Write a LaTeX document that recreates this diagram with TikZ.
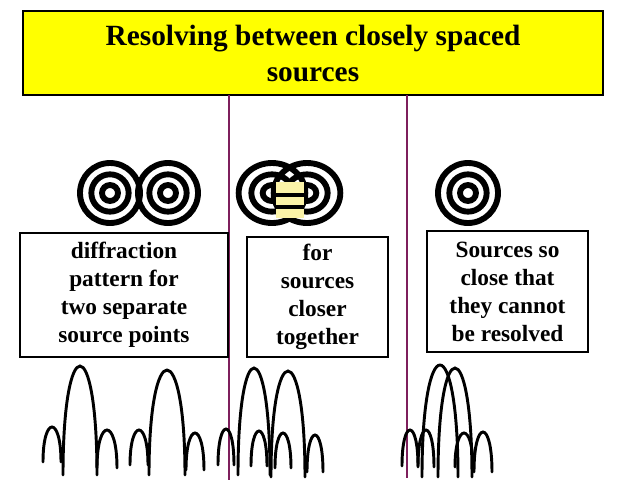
\documentclass[tikz,border=0pt]{standalone}
\usepackage{fontspec}
\setmainfont{Liberation Serif}
\definecolor{titleyellow}{HTML}{FFFF00}
\definecolor{paleyellow}{HTML}{FBF3A8}
\definecolor{divider}{HTML}{7E1F5C}
\tikzset{
  textbox/.style={draw, line width=1pt, fill=white, align=center, font=\bfseries\fontsize{17.5}{21}\selectfont},
  ring/.style={line width=4.4pt},
  peak/.style={line width=2.2pt, line cap=round},
}
\begin{document}
\begin{tikzpicture}[x=0.75pt,y=-0.75pt]
  \useasboundingbox (0,0) rectangle (640,480);
  \def\arch#1#2#3#4{% center, half width, peak, foot
    \pgfmathsetmacro\ctrl{(#3-0.25*#4)/0.75}
    \draw[peak] (#1-#2,#4) .. controls (#1-#2,\ctrl) and (#1+#2,\ctrl) .. (#1+#2,#4);
  }

  \node[draw, line width=1pt, fill=titleyellow, minimum width=435pt, minimum height=63pt,
        align=center, font=\bfseries\fontsize{22}{27}\selectfont] (title) at (313,53)
        {Resolving between closely spaced\\sources};

  \coordinate (d1top) at (229,95);
  \coordinate (d1bot) at (229,480);
  \coordinate (d2top) at (407,95);
  \coordinate (d2bot) at (407,478);
  \draw[divider, line width=1.5pt] (d1top) -- (d1bot);
  \draw[divider, line width=1.5pt] (d2top) -- (d2bot);

  % ring patterns
  \foreach \cx in {110,168,468} {
    \draw[ring] (\cx,193) circle (22.5pt);
    \draw[ring] (\cx,193) circle (14pt);
    \draw[ring] (\cx,193) circle (6pt);
  }
  \foreach \cx in {272,307} {
    \draw[ring] (\cx,193) ellipse (25pt and 22.5pt);
    \draw[ring] (\cx,193) ellipse (15.5pt and 14pt);
    \draw[ring] (\cx,193) ellipse (7pt and 6pt);
  }
  \fill[paleyellow] (276,182) rectangle (304,218);
  \draw[line width=3pt] (276,195) -- (304,195);
  \draw[line width=3pt] (276,207) -- (304,207);

  \node[textbox, minimum width=156pt, minimum height=93pt] (sep) at (124,295)
    {diffraction\\pattern for\\two separate\\source points};
  \node[textbox, minimum width=105.75pt, minimum height=90pt] (close) at (317.5,297)
    {for\\sources\\closer\\together};
  \node[textbox, minimum width=120.75pt, minimum height=90.75pt] (unres) at (507.5,291.5)
    {Sources so\\close that\\they cannot\\be resolved};

  % diffraction peaks
  \arch{52}{9}{427}{462}
  \arch{80}{17}{366}{475}
  \arch{107}{10}{430}{468}
  \arch{139}{9}{430}{465}
  \arch{167}{18}{370}{475}
  \arch{195}{9}{433}{470}

  \arch{226}{8}{429}{465}
  \arch{254}{16}{368}{475}
  \arch{259}{8}{431}{466}
  \arch{283}{8}{433}{468}
  \arch{288}{17}{371}{477}
  \arch{315}{8}{435}{472}

  \arch{410}{8}{430}{466}
  \arch{426}{8}{430}{467}
  \arch{440}{18}{365}{477}
  \arch{455}{17}{368}{477}
  \arch{464}{9}{433}{467}
  \arch{483}{9}{432}{472}
\end{tikzpicture}
\end{document}
